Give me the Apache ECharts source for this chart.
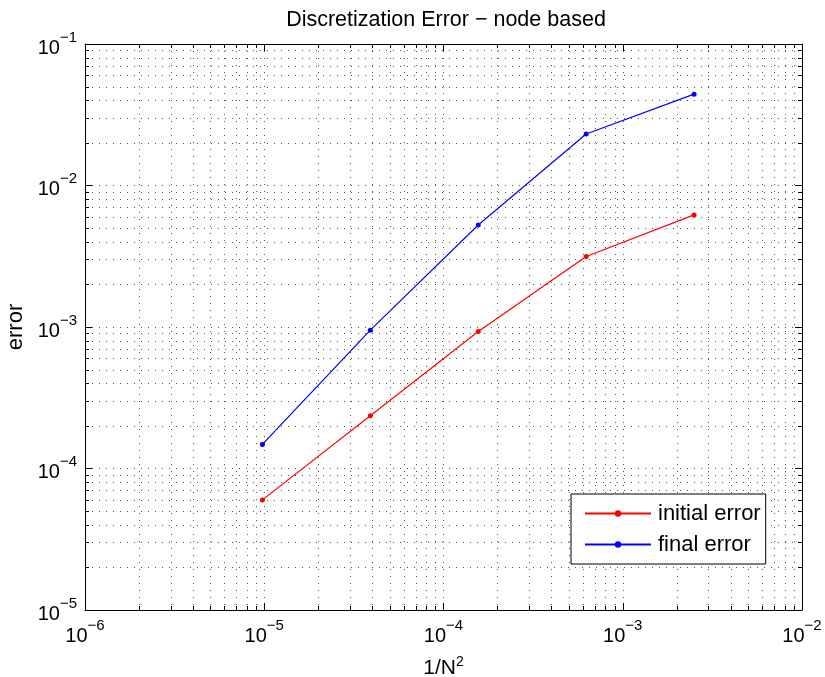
<!DOCTYPE html>
<html>
<head>
<meta charset="utf-8">
<script src="https://cdn.jsdelivr.net/npm/echarts@6/dist/echarts.min.js"></script>
<style>
html,body{margin:0;padding:0;background:#fff;}
#chart{width:825px;height:677px;}
</style>
</head>
<body>
<div id="chart"></div>
<script>
// ---- data ----
const xValues = [9.766e-6, 3.906e-5, 1.5625e-4, 6.25e-4, 2.5e-3]; // 1/N^2
const initialError = [6.0e-5, 2.36e-4, 9.3e-4, 3.15e-3, 6.2e-3];
const finalError = [1.48e-4, 9.5e-4, 5.26e-3, 2.31e-2, 4.42e-2];
const seriesNames = ['initial error', 'final error'];
const xDecades = [1e-6, 1e-5, 1e-4, 1e-3];
const yDecades = [1e-5, 1e-4, 1e-3, 1e-2];
const minorMultipliers = [2, 3, 4, 5, 6, 7, 8, 9];
const xRange = [1e-6, 1e-2];
const yRange = [1e-5, 1e-1];

const xMinor = [];
xDecades.forEach(d => minorMultipliers.forEach(m => xMinor.push([d * m, 1e-3])));
const yMinor = [];
yDecades.forEach(d => minorMultipliers.forEach(m => yMinor.push([1e-4, d * m])));

const FONT = '"Liberation Sans", Arial, Helvetica, sans-serif';
const GRID_COLOR = '#555';
const DASH = [1, 6];

function expLabel(v) {
  const e = Math.round(Math.log10(v));
  const s = e < 0 ? '\u2212' + (-e) : String(e);
  return '{b|10}{s|' + s + '}';
}
const labelRich = {
  b: {fontSize: 20, fontFamily: FONT, color: '#000', lineHeight: 28, verticalAlign: 'bottom'},
  s: {fontSize: 15, fontFamily: FONT, color: '#000', lineHeight: 28, verticalAlign: 'top'}
};

function minorRender(isX) {
  return function (params, api) {
    const cs = params.coordSys;
    const p = api.coord([api.value(0), api.value(1)]);
    const style = {stroke: GRID_COLOR, lineWidth: 1, lineDash: DASH};
    const tick = {stroke: '#000', lineWidth: 1};
    if (isX) {
      const x = Math.round(p[0]) + 0.5;
      const y0 = cs.y, y1 = cs.y + cs.height;
      return {type: 'group', children: [
        {type: 'line', shape: {x1: x, y1: y0, x2: x, y2: y1}, style: style},
        {type: 'line', shape: {x1: x, y1: y1, x2: x, y2: y1 - 4}, style: tick},
        {type: 'line', shape: {x1: x, y1: y0, x2: x, y2: y0 + 4}, style: tick}
      ]};
    } else {
      const y = Math.round(p[1]) + 0.5;
      const x0 = cs.x, x1 = cs.x + cs.width;
      return {type: 'group', children: [
        {type: 'line', shape: {x1: x0, y1: y, x2: x1, y2: y}, style: style},
        {type: 'line', shape: {x1: x0, y1: y, x2: x0 + 4, y2: y}, style: tick},
        {type: 'line', shape: {x1: x1, y1: y, x2: x1 - 4, y2: y}, style: tick}
      ]};
    }
  };
}

const axisCommon = {
  type: 'log', logBase: 10, splitNumber: 4,
  axisLine: {show: true, onZero: false, lineStyle: {color: '#000', width: 1}},
  axisTick: {show: true, inside: true, length: 7, lineStyle: {color: '#000'}},
  minorTick: {show: false},
  splitLine: {show: true, lineStyle: {color: GRID_COLOR, width: 1, type: DASH}}
};

const chart = echarts.init(document.getElementById('chart'), null, {renderer: 'canvas'});
chart.setOption({
  animation: false,
  backgroundColor: '#fff',
  title: {
    text: 'Discretization Error \u2212 node based',
    left: 441, top: 4, textAlign: 'center',
    textStyle: {fontFamily: FONT, fontSize: 21.5, fontWeight: 'normal', color: '#000'}
  },
  grid: {left: 85, right: 23, top: 44, bottom: 67, containLabel: false, outerBoundsMode: 'none'},
  legend: {
    data: seriesNames,
    orient: 'vertical',
    left: 571, top: 494,
    padding: [7, 5, 7, 13],
    itemWidth: 66, itemHeight: 8, itemGap: 6,
    backgroundColor: '#fff', borderColor: '#000', borderWidth: 1, borderRadius: 0,
    textStyle: {fontFamily: FONT, fontSize: 22, color: '#000', lineHeight: 25, padding: [0, 0, 0, 2]}
  },
  xAxis: [
    Object.assign({}, axisCommon, {
      position: 'bottom', min: xRange[0], max: xRange[1],
      name: '1/N{sup|2}', nameLocation: 'middle', nameGap: 45,
      nameTextStyle: {fontFamily: FONT, fontSize: 21, color: '#000',
        rich: {sup: {fontSize: 14, fontFamily: FONT, color: '#000', verticalAlign: 'top', lineHeight: 26}}},
      axisLabel: {show: true, margin: 8, formatter: expLabel, rich: labelRich}
    }),
    Object.assign({}, axisCommon, {
      position: 'top', min: xRange[0], max: xRange[1],
      axisLabel: {show: false}, splitLine: {show: false}
    })
  ],
  yAxis: [
    Object.assign({}, axisCommon, {
      position: 'left', min: yRange[0], max: yRange[1],
      name: 'error', nameLocation: 'middle', nameGap: 58,
      nameTextStyle: {fontFamily: FONT, fontSize: 22, color: '#000'},
      axisLabel: {show: true, margin: 8, formatter: expLabel, rich: labelRich}
    }),
    Object.assign({}, axisCommon, {
      position: 'right', min: yRange[0], max: yRange[1],
      axisLabel: {show: false}, splitLine: {show: false}
    })
  ],
  series: [
    {
      type: 'custom', name: 'xminor', xAxisIndex: 0, yAxisIndex: 0, z: 1, silent: true,
      renderItem: minorRender(true), data: xMinor, encode: {x: 0, y: 1}
    },
    {
      type: 'custom', name: 'yminor', xAxisIndex: 0, yAxisIndex: 0, z: 1, silent: true,
      renderItem: minorRender(false), data: yMinor, encode: {x: 0, y: 1}
    },
    {
      name: seriesNames[0], type: 'line', xAxisIndex: 0, yAxisIndex: 0, z: 3,
      data: xValues.map((x, i) => [x, initialError[i]]),
      symbol: 'circle', symbolSize: 5, showSymbol: true,
      itemStyle: {color: '#ff0000'}, lineStyle: {color: '#ff0000', width: 1.2}
    },
    {
      name: seriesNames[1], type: 'line', xAxisIndex: 0, yAxisIndex: 0, z: 3,
      data: xValues.map((x, i) => [x, finalError[i]]),
      symbol: 'circle', symbolSize: 5, showSymbol: true,
      itemStyle: {color: '#0000ff'}, lineStyle: {color: '#0000ff', width: 1.2}
    }
  ]
});
</script>
</body>
</html>
